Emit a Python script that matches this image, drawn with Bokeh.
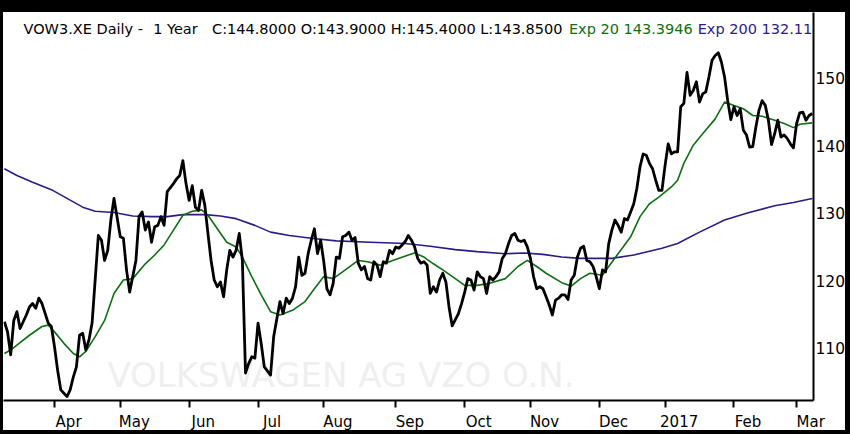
import pandas as pd
from bokeh.plotting import figure
from bokeh.models import Range1d, LinearAxis, FixedTicker, Label
from bokeh.embed import file_html
from bokeh.resources import INLINE

# ---------------- data ----------------
# trading-day index (0 = 2016-03-08) and daily close
close_day = [0, 1, 2, 3, 4, 5, 7, 8, 9, 10, 11, 12, 14, 15, 16, 17, 18, 19, 20, 21,
             22, 23, 24, 25, 26, 27, 28, 30, 31, 32, 33, 34, 35, 37, 38, 39, 40, 42, 43, 44,
             45, 46, 47, 48, 49, 50, 51, 52, 54, 55, 56, 57, 58, 59, 60, 61, 62, 63, 64, 65,
             66, 67, 68, 69, 70, 71, 72, 73, 74, 75, 76, 77, 78, 79, 80, 81, 82, 83, 85, 86,
             88, 89, 90, 91, 92, 93, 94, 95, 96, 97, 98, 99, 100, 101, 102, 103, 104, 105, 106, 107,
             108, 109, 110, 111, 112, 113, 114, 115, 116, 117, 118, 119, 120, 121, 122, 123, 124, 125, 126, 127,
             128, 129, 130, 131, 132, 133, 134, 135, 136, 137, 138, 139, 140, 141, 142, 143, 145, 146, 147, 148,
             149, 150, 151, 152, 153, 154, 155, 156, 157, 158, 159, 160, 161, 162, 163, 164, 165, 166, 167, 168,
             169, 170, 171, 172, 173, 174, 175, 176, 177, 178, 179, 180, 181, 182, 183, 184, 185, 186, 187, 188,
             189, 190, 191, 192, 193, 194, 195, 196, 197, 198, 199, 200, 201, 202, 203, 204, 205, 206, 207, 208,
             209, 210, 211, 212, 213, 214, 215, 216, 217, 218, 219, 220, 221, 222, 223, 224, 225, 226, 227, 228,
             229, 230, 231, 232, 233, 234, 235, 236, 237, 238, 239, 240, 241, 242, 243, 244, 245, 246, 247, 248,
             249, 250, 251, 252, 253, 254, 255, 256, 257, 258]
close_val = [113.9, 112.4, 109.0, 114.1, 115.4, 112.9, 114.9, 116.1, 116.6, 115.9, 117.4, 116.6, 113.7, 113.2, 110.2, 106.7, 103.8, 103.3, 102.8, 103.8,
             105.7, 107.2, 111.9, 112.2, 109.7, 111.2, 113.7, 126.7, 126.0, 123.0, 124.5, 129.0, 132.2, 126.5, 126.3, 121.6, 118.3, 123.0, 129.5, 130.2,
             127.5, 128.7, 125.7, 128.0, 128.2, 129.5, 128.2, 133.2, 134.4, 135.1, 135.6, 137.8, 134.4, 131.9, 134.1, 130.9, 130.4, 133.4, 131.2, 127.0,
             123.0, 120.1, 119.1, 119.8, 117.6, 121.6, 124.5, 123.5, 124.5, 127.0, 123.0, 106.3, 107.7, 108.7, 108.5, 113.7, 110.7, 107.2, 106.0, 111.7,
             116.9, 115.1, 117.4, 116.6, 117.4, 119.1, 123.5, 120.8, 121.1, 124.0, 126.0, 127.7, 124.0, 126.0, 122.8, 118.8, 117.9, 119.6, 123.5, 123.3,
             126.5, 126.7, 127.2, 126.0, 126.4, 122.6, 121.6, 122.1, 120.3, 120.1, 122.8, 122.3, 120.6, 122.8, 122.6, 124.5, 124.0, 125.0, 124.8, 125.3,
             125.8, 126.7, 126.0, 125.0, 123.3, 122.6, 122.8, 122.3, 118.1, 119.1, 118.3, 120.1, 121.1, 119.8, 116.1, 113.3, 115.1, 116.6, 118.3, 120.3,
             120.1, 118.6, 121.3, 120.6, 120.3, 118.1, 120.6, 120.1, 120.6, 121.3, 123.3, 124.0, 125.5, 126.7, 127.0, 126.0, 125.8, 126.0, 125.0, 123.3,
             120.6, 118.8, 119.1, 118.8, 117.6, 116.4, 114.9, 117.1, 117.4, 117.9, 117.9, 117.2, 120.1, 120.8, 123.5, 124.8, 125.1, 123.0, 122.8, 122.1,
             120.6, 118.8, 121.6, 121.3, 125.5, 127.5, 129.0, 128.2, 127.2, 129.2, 129.0, 130.2, 131.4, 133.7, 136.9, 138.8, 138.6, 137.4, 136.6, 134.9,
             133.4, 133.4, 137.1, 140.3, 138.8, 139.1, 139.1, 145.8, 146.3, 150.9, 147.5, 148.2, 149.5, 146.5, 147.7, 148.0, 150.2, 152.7, 153.4, 153.8,
             152.4, 150.2, 146.7, 143.9, 145.8, 144.5, 145.5, 142.3, 141.6, 139.8, 139.9, 142.8, 145.3, 146.7, 146.0, 143.8, 140.2, 141.8, 143.8, 141.3,
             141.6, 141.1, 140.3, 139.7, 143.3, 144.9, 145.0, 143.8, 144.5, 144.8]

# 20-day exponential average (green)
exp20_day = [0, 2, 5, 8, 12, 14, 16, 19, 22, 24, 26, 29, 32, 35, 38, 41, 45, 48, 51, 54,
             57, 60, 63, 65, 68, 71, 74, 76, 79, 82, 85, 88, 92, 96, 99, 102, 105, 108, 113, 116,
             120, 124, 129, 131, 134, 137, 140, 144, 147, 151, 155, 160, 164, 167, 170, 173, 178, 181, 184, 187,
             191, 193, 196, 200, 203, 206, 209, 213, 215, 217, 220, 223, 227, 230, 233, 236, 239, 242, 246, 249,
             252, 254, 258]
exp20_val = [109.2, 109.7, 110.8, 111.9, 113.2, 113.4, 112.4, 110.7, 109.2, 108.7, 109.5, 111.7, 114.1, 118.1, 120.1, 120.3, 122.5, 123.8, 125.3, 127.5,
             129.7, 130.3, 130.5, 129.7, 127.7, 125.7, 125.0, 123.5, 120.6, 117.9, 115.4, 114.9, 115.6, 116.9, 118.8, 120.6, 120.3, 121.3, 123.0, 122.8,
             122.3, 123.0, 123.8, 124.1, 123.5, 122.5, 121.6, 120.3, 119.3, 119.3, 119.6, 120.3, 122.1, 123.0, 122.1, 121.1, 119.7, 119.2, 120.3, 121.1,
             120.8, 122.1, 124.0, 126.5, 129.5, 131.4, 132.4, 133.9, 134.9, 137.4, 140.1, 141.8, 144.0, 146.5, 146.0, 145.5, 144.5, 144.4, 143.8, 143.3,
             142.7, 143.2, 143.4]

# 200-day exponential average (purple)
exp200_day = [0, 4, 9, 15, 20, 25, 29, 35, 41, 47, 52, 57, 64, 69, 74, 80, 85, 91, 98, 106,
              117, 128, 136, 144, 151, 160, 166, 172, 178, 184, 194, 201, 210, 215, 222, 230, 237, 246, 252, 258]
exp200_val = [136.6, 135.6, 134.6, 133.5, 132.2, 130.9, 130.3, 130.1, 129.6, 129.5, 129.5, 129.8, 129.8, 129.6, 129.2, 128.2, 127.2, 126.7, 126.3, 125.9,
              125.7, 125.5, 125.1, 124.6, 124.3, 124.0, 124.1, 123.9, 123.5, 123.3, 123.3, 123.8, 124.8, 125.5, 127.2, 129.0, 130.0, 131.1, 131.6, 132.2]

y_ticks = [110, 120, 130, 140, 150]
header_black = ["VOW3.XE Daily -", "1 Year", "C:144.8000 O:143.9000 H:145.4000 L:143.8500"]
header_exp20 = "Exp 20 143.3946"
header_exp200 = "Exp 200 132.119"
watermark = "VOLKSWAGEN AG VZO O.N."

# trading calendar (Xetra) for the month ticks
holidays = pd.to_datetime(["2016-03-25", "2016-03-28", "2016-12-26"])
dates = pd.bdate_range("2016-03-08", "2017-03-08")
dates = dates[~dates.isin(holidays)]
month_idx = [i for i in range(1, len(dates)) if dates[i].month != dates[i - 1].month]
month_lab = [str(dates[i].year) if dates[i].month == 1 else dates[i].strftime("%b") for i in month_idx]
label_pos = [i + 4.5 for i in month_idx]

# ---------------- figure ----------------
FONT = "DejaVu Sans"
GREEN = "#0f6e12"
PURPLE = "#2c1a88"

p = figure(width=842, height=418, output_backend="svg", toolbar_location=None,
           x_range=Range1d(-0.29, 258.4), y_range=Range1d(102.22, 159.78),
           x_axis_location=None, y_axis_location=None,
           min_border_left=0, min_border_right=40, min_border_top=0, min_border_bottom=46)
p.styles = {"box-sizing": "content-box",
            "border-top": "12px solid black", "border-left": "3px solid black",
            "border-right": "5px solid black", "border-bottom": "4px solid black"}
p.outline_line_color = None
p.background_fill_color = "white"
p.border_fill_color = "white"
p.grid.grid_line_color = None

# watermark behind the data
p.add_layout(Label(x=32.9, y=106.0, text=watermark, text_font=FONT, text_font_size="34px",
                   text_color="#efefef", text_baseline="alphabetic", level="underlay"))

p.line(exp200_day, exp200_val, line_color=PURPLE, line_width=1.6)
p.line(exp20_day, exp20_val, line_color=GREEN, line_width=1.6)
p.line(close_day, close_val, line_color="black", line_width=2.8, line_join="round")

# bottom axis: month ticks (minor) and labels just right of them (major)
xax = LinearAxis(ticker=FixedTicker(ticks=label_pos, minor_ticks=month_idx))
xax.major_label_overrides = {pos: lab for pos, lab in zip(label_pos, month_lab)}
xax.axis_line_color = "black"
xax.axis_line_width = 2
xax.major_tick_line_color = None
xax.major_tick_out = 0
xax.major_tick_in = 0
xax.minor_tick_line_color = "black"
xax.minor_tick_line_width = 2
xax.minor_tick_out = 7
xax.minor_tick_in = 0
xax.major_label_standoff = 5
xax.major_label_text_font = FONT
xax.major_label_text_font_size = "15px"
xax.major_label_text_color = "black"
p.add_layout(xax, "below")

yax = LinearAxis(ticker=FixedTicker(ticks=y_ticks))
yax.axis_line_color = "black"
yax.axis_line_width = 2
yax.major_tick_out = 0
yax.major_tick_in = 0
yax.minor_tick_line_color = None
yax.major_label_standoff = 2
yax.major_label_text_font = FONT
yax.major_label_text_font_size = "15.5px"
yax.major_label_text_color = "black"
p.add_layout(yax, "right")

# header line at the top of the chart
hy = 157.4
HFS = "14.5px"
for xx, t in zip([6.1, 47.5, 66.3], header_black):
    p.add_layout(Label(x=xx, y=hy, text=t, text_font=FONT, text_font_size=HFS,
                       text_color="black", text_baseline="alphabetic"))
p.add_layout(Label(x=180.3, y=hy, text=header_exp20, text_font=FONT, text_font_size=HFS,
                   text_color=GREEN, text_baseline="alphabetic"))
p.add_layout(Label(x=221.4, y=hy, text=header_exp200, text_font=FONT, text_font_size=HFS,
                   text_color=PURPLE, text_baseline="alphabetic"))

open("out.html", "w").write(file_html(p, INLINE))
